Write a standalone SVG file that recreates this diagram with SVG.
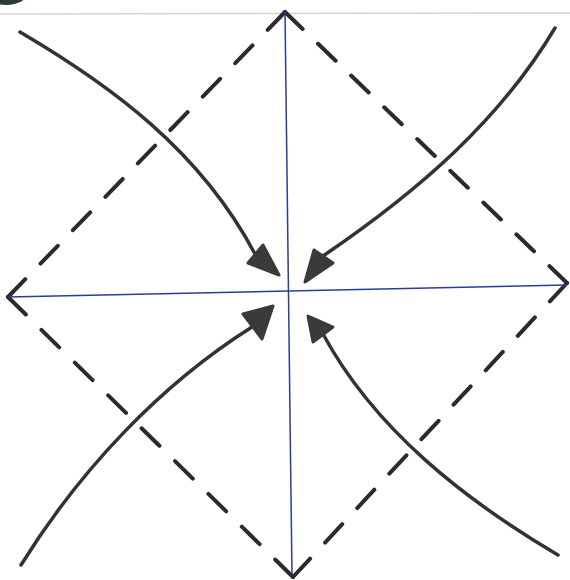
<svg xmlns="http://www.w3.org/2000/svg" width="570" height="580" viewBox="0 0 570 580">
  <style>
    .dash { fill: none; stroke: #2b2b2b; stroke-width: 4; stroke-linecap: round; stroke-dasharray: 25 21.875; }
    .axis { fill: none; stroke: #2c3d96; stroke-width: 1.5; }
    .curve { fill: none; stroke: #333333; stroke-width: 3.5; stroke-linecap: round; }
    .head { fill: #3a3a3a; stroke: #3a3a3a; stroke-width: 3; stroke-linejoin: round; }
  </style>
  <rect width="570" height="580" fill="#ffffff"/>
  <line x1="0" y1="14" x2="570" y2="13" stroke="#d4d4d4" stroke-width="1.5"/>
  <ellipse cx="6" cy="-8" rx="22" ry="13" fill="#2e3a36"/>

  <g id="diamond">
    <path class="dash" d="M8,297 L285,12" pathLength="400"/>
    <path class="dash" d="M285,12 L567,283" pathLength="400"/>
    <path class="dash" d="M567,283 L293,577" pathLength="400"/>
    <path class="dash" d="M293,577 L8,297" pathLength="400"/>
  </g>

  <g id="axes">
    <line class="axis" x1="285" y1="12" x2="292" y2="575"/>
    <line class="axis" x1="8" y1="297" x2="567" y2="285"/>
  </g>

  <g id="connectors">
    <g id="arrow-tl">
      <path class="curve" d="M20,32 C110,85 200,150 255,254"/>
      <polygon class="head" points="248,263 263,245 279,275"/>
    </g>
    <g id="arrow-tr">
      <path class="curve" d="M555,28 C500,120 420,190 323,256"/>
      <polygon class="head" points="305,282 314,250 333,263"/>
    </g>
    <g id="arrow-bl">
      <path class="curve" d="M21,565 C80,470 160,385 252,327"/>
      <polygon class="head" points="243,314 273,306 262,339"/>
    </g>
    <g id="arrow-br">
      <path class="curve" d="M558,555 C465,500 375,430 323,334"/>
      <polygon class="head" points="308,316 333,327 313,342"/>
    </g>
  </g>
</svg>
